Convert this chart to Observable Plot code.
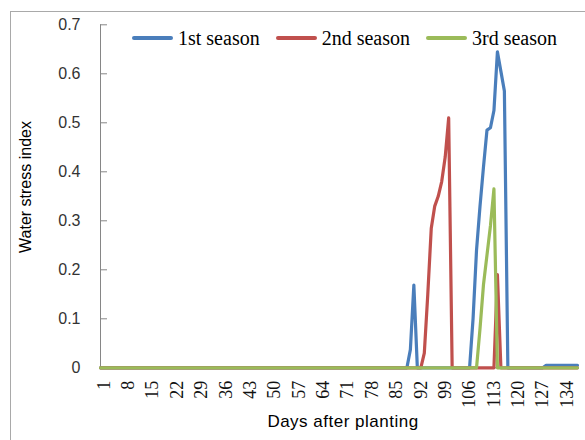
<!DOCTYPE html>
<html>
<head>
<meta charset="utf-8">
<script src="https://cdn.jsdelivr.net/npm/d3@7"></script>
<script src="https://cdn.jsdelivr.net/npm/@observablehq/plot@0.6"></script>
<style>
  html, body { margin: 0; padding: 0; background: #fff; }
  #wrap { position: relative; width: 585px; height: 440px; overflow: hidden; }
  #frame { position: absolute; left: 10px; top: 11px; right: -2px; bottom: -2px;
           border-left: 1px solid #a9a9a9; border-top: 1px solid #a9a9a9; pointer-events: none; }
  #legend { position: absolute; left: 132px; top: 28px; display: flex; gap: 16px; align-items: center;
            font-family: "Liberation Serif", "Times New Roman", serif; font-size: 20px; line-height: 1; color: #000; }
  .item { display: flex; align-items: center; gap: 5px; }
  .swatch { width: 41px; height: 3.5px; border-radius: 2px; }
  #xtitle { position: absolute; left: 243px; top: 413px; width: 200px; text-align: center;
            font-family: "Liberation Sans", Arial, sans-serif; font-size: 17px; line-height: 1; letter-spacing: 0.5px; }
  #ytitle { position: absolute; left: -74px; top: 179px; width: 200px; text-align: center;
            font-family: "Liberation Sans", Arial, sans-serif; font-size: 16px; line-height: 1;
            transform: rotate(-90deg); transform-origin: 50% 50%; }
  svg { position: absolute; left: 0; top: 0; }
</style>
</head>
<body>
<div id="wrap">
  <div id="frame"></div>
</div>
<script>
// ---- data ----
const seriesNames = ["1st season", "2nd season", "3rd season"];
const seriesColors = ["#4a7ebb", "#c0504d", "#9bbb59"];

const blueDays = [0, 88, 89, 90, 91, 106, 107, 108, 109, 110, 111, 112, 113, 114, 115, 116, 117, 127, 128, 137];
const blueVals = [0, 0, 0.037, 0.169, 0, 0, 0.10, 0.24, 0.33, 0.41, 0.485, 0.49, 0.525, 0.645, 0.605, 0.565, 0, 0, 0.005, 0.005];

const redDays = [0, 92, 93, 94, 95, 96, 97, 98, 99, 100, 101, 113, 114, 115, 137];
const redVals = [0, 0, 0.03, 0.15, 0.285, 0.33, 0.35, 0.38, 0.43, 0.51, 0, 0, 0.19, 0, 0];

const greenDays = [0, 108, 109, 110, 111, 112, 113, 114, 137];
const greenVals = [0, 0, 0.08, 0.17, 0.23, 0.29, 0.365, 0, 0];

const xTicks = [1, 8, 15, 22, 29, 36, 43, 50, 57, 64, 71, 78, 85, 92, 99, 106, 113, 120, 127, 134];
const yTicks = [0, 0.1, 0.2, 0.3, 0.4, 0.5, 0.6, 0.7];
const yTickLabels = ["0", "0.1", "0.2", "0.3", "0.4", "0.5", "0.6", "0.7"];
const xDomain = [0, 137];
const yDomain = [0, 0.7];
const xTitle = "Days after planting";
const yTitle = "Water stress index";

// ---- build tables ----
const toRows = (days, vals) => days.map((d, i) => ({day: d, value: vals[i]}));
const series = [toRows(blueDays, blueVals), toRows(redDays, redVals), toRows(greenDays, greenVals)];

const axisGray = "#868686";

const chart = Plot.plot({
  width: 585,
  height: 440,
  marginLeft: 100,
  marginRight: 8,
  marginTop: 24.3,
  marginBottom: 72.7,
  style: {background: "transparent", fontFamily: "'Liberation Sans', Arial, sans-serif"},
  x: {type: "linear", domain: xDomain},
  y: {type: "linear", domain: yDomain},
  marks: [
    Plot.ruleY([yDomain[0]], {stroke: axisGray, strokeWidth: 1}),
    Plot.ruleX([xDomain[0]], {stroke: axisGray, strokeWidth: 1}),
    // inward-pointing tick marks
    Plot.axisY({ticks: yTicks, tickSize: 7, dx: 7, tickFormat: () => "", label: null, stroke: axisGray}),
    Plot.axisY({ticks: yTicks, tickSize: 0, tickPadding: 20, label: null,
      tickFormat: (d) => yTickLabels[yTicks.indexOf(d)],
      fontSize: 16, fontFamily: "'Liberation Sans', Arial, sans-serif", fill: "#333"}),
    Plot.axisX({ticks: xTicks, tickSize: 0, tickPadding: 13, tickRotate: -90, label: null,
      fontSize: 18, fontFamily: "'Liberation Serif', 'Times New Roman', serif", fill: "#111"}),
    ...series.map((rows, i) => Plot.line(rows, {
      x: "day", y: "value", stroke: seriesColors[i], strokeWidth: 3.2,
      strokeLinejoin: "round", strokeLinecap: "round"
    }))
  ]
});

const wrap = document.getElementById("wrap");
wrap.insertBefore(chart, wrap.firstChild);

// legend
const legend = document.createElement("div");
legend.id = "legend";
seriesNames.forEach((name, i) => {
  const item = document.createElement("div");
  item.className = "item";
  const sw = document.createElement("span");
  sw.className = "swatch";
  sw.style.background = seriesColors[i];
  const label = document.createElement("span");
  label.textContent = name;
  item.appendChild(sw);
  item.appendChild(label);
  legend.appendChild(item);
});
wrap.appendChild(legend);

// axis titles
const xt = document.createElement("div");
xt.id = "xtitle"; xt.textContent = xTitle;
wrap.appendChild(xt);
const yt = document.createElement("div");
yt.id = "ytitle"; yt.textContent = yTitle;
wrap.appendChild(yt);
</script>
</body>
</html>
